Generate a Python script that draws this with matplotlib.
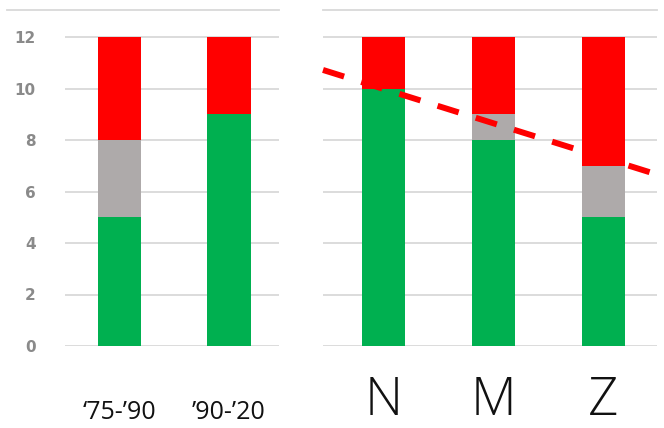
import matplotlib.pyplot as plt
from matplotlib.lines import Line2D

# left panel: two periods
periods = ["\u201875-\u201990", "\u201990-\u201920"]
period_green = [5, 9]
period_gray = [3, 0]
period_red = [4, 3]

# right panel: three groups
groups = ["N", "M", "Z"]
group_green = [10, 8, 5]
group_gray = [0, 1, 2]
group_red = [2, 3, 5]

# dashed trend across the right panel (start / end values)
trend_x = [-0.55, 2.55]
trend_y = [10.72, 6.58]

yticks = [0, 2, 4, 6, 8, 10, 12]

GREEN = "#00B050"
GRAY = "#AEAAAA"
RED = "#FF0000"
GRID = "#D9D9D9"

W, H = 664, 428
fig = plt.figure(figsize=(W / 100, H / 100), dpi=100)

px_unit = 25.75
y0 = 346
ytop = 12.6


def axes_at(x1, x2):
    return fig.add_axes([x1 / W, (H - y0) / H, (x2 - x1) / W,
                         ytop * px_unit / H])


def stack(ax, x, green, gray, red, width):
    bottom2 = [g + m for g, m in zip(green, gray)]
    ax.bar(x, green, width, color=GREEN, zorder=2)
    ax.bar(x, gray, width, bottom=green, color=GRAY, zorder=2)
    ax.bar(x, red, width, bottom=bottom2, color=RED, zorder=2)


def style(ax):
    ax.set_ylim(0, ytop)
    ax.set_yticks(yticks)
    ax.grid(axis="y", color=GRID, linewidth=1.3, zorder=0)
    for s in ax.spines.values():
        s.set_visible(False)
    ax.tick_params(length=0)
    ax.set_xticks([])


# left panel
axl = axes_at(65, 279)
stack(axl, range(len(periods)), period_green, period_gray, period_red, 0.4)
style(axl)
axl.set_xlim(-0.5, 1.46)
axl.set_yticklabels([str(t) for t in yticks], fontsize=11, color="#8a8a8a",
                    fontweight="bold")
axl.tick_params(axis="y", pad=21)
for i, lab in enumerate(periods):
    axl.text(i, -2.85, lab, ha="center", va="baseline", fontsize=18,
             family="Open Sans", color="#111111", clip_on=False)

# right panel
axr = axes_at(323, 657)
stack(axr, range(len(groups)), group_green, group_gray, group_red, 0.39)
style(axr)
axr.set_xlim(-0.55, 2.49)
axr.set_yticklabels([])
axr.plot(trend_x, trend_y, color=RED, linewidth=4.3, linestyle=(0, (3.7, 3.0)),
         solid_capstyle="butt", dash_capstyle="butt", zorder=3, clip_on=False)
for i, lab in enumerate(groups):
    axr.text(i, -2.68, lab, ha="center", va="baseline", fontsize=38,
             family="Open Sans", fontweight="light", color="#111111",
             clip_on=False)

# top border lines
yt = (H - 10) / H
fig.add_artist(Line2D([7 / W, 279 / W], [yt, yt], color=GRID, linewidth=1.3))
fig.add_artist(Line2D([323 / W, 657 / W], [yt, yt], color=GRID, linewidth=1.3))

fig.savefig("out.png", dpi=100)
